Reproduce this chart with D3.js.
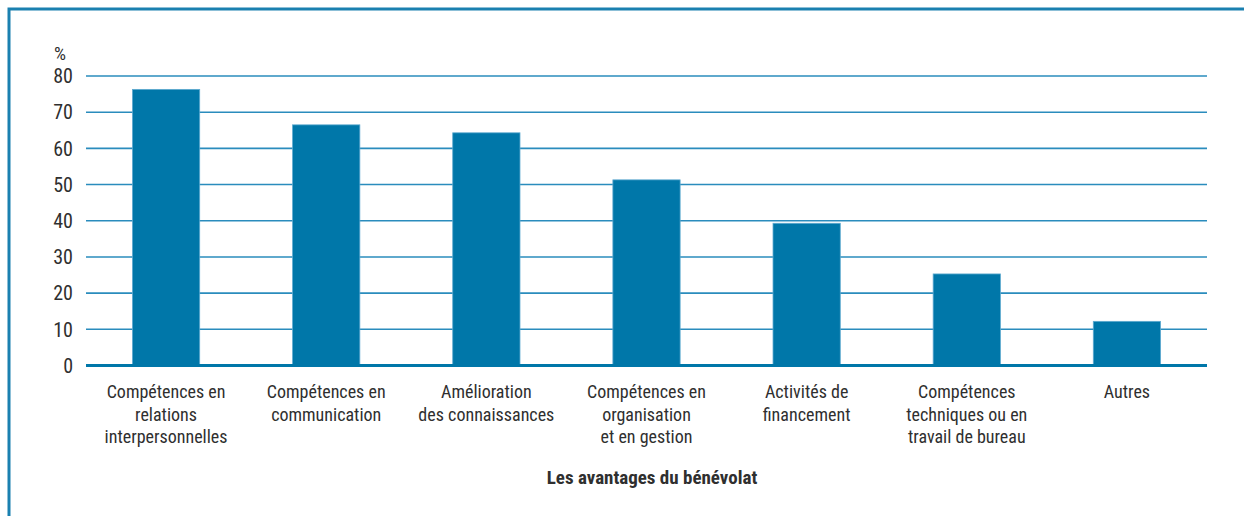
<!DOCTYPE html>
<html>
<head>
<meta charset="utf-8">
<script src="https://cdn.jsdelivr.net/npm/d3@7"></script>
<style>
  body { margin: 0; background: #fff; }
  text { font-family: "Liberation Sans Narrow", "Roboto Condensed", "Liberation Sans", sans-serif; fill: #2f2f2f; }
</style>
</head>
<body>
<div id="chart"></div>
<script>
/* DATA */
const categories = [
  "Compétences en|relations|interpersonnelles",
  "Compétences en|communication",
  "Amélioration|des connaissances",
  "Compétences en|organisation|et en gestion",
  "Activités de|financement",
  "Compétences|techniques ou en|travail de bureau",
  "Autres"
];
const values = [76.3, 66.5, 64.3, 51.3, 39.3, 25.3, 12.2];
const yTicks = [0, 10, 20, 30, 40, 50, 60, 70, 80];
const unitLabel = "%";
const xTitle = "Les avantages du bénévolat";

/* CONSTANTS */
const width = 1244,
  height = 516,
  margin = { top: 76, bottom: 150.5, left: 86, right: 37 };

const blue = "#0077a9";

const svg = d3.select("#chart")
  .append("svg")
  .attr("width", width)
  .attr("height", height);

// frame
svg.append("rect")
  .attr("x", 9)
  .attr("y", 9)
  .attr("width", width + 20)
  .attr("height", height + 20)
  .attr("fill", "none")
  .attr("stroke", "#1a80b0")
  .attr("stroke-width", 3);

// scales
const xScale = d3.scaleBand()
  .domain(categories)
  .range([margin.left, width - margin.right])
  .paddingInner(0.58)
  .paddingOuter(0.29);

const yScale = d3.scaleLinear()
  .domain([0, 80])
  .range([height - margin.bottom, margin.top]);

// grid lines
svg.append("g")
  .selectAll("line")
  .data(yTicks.filter(d => d > 0))
  .join("line")
  .attr("x1", margin.left)
  .attr("x2", width - margin.right)
  .attr("y1", d => yScale(d))
  .attr("y2", d => yScale(d))
  .attr("stroke", "#2a8cbd")
  .attr("stroke-width", 1.6);

// bars
svg.append("g")
  .selectAll("rect")
  .data(values)
  .join("rect")
  .attr("x", (d, i) => xScale(categories[i]))
  .attr("y", d => yScale(d))
  .attr("width", xScale.bandwidth())
  .attr("height", d => yScale(0) - yScale(d))
  .attr("fill", blue)
  .attr("stroke", "#5eaad0")
  .attr("stroke-width", 0.8);

// baseline
svg.append("line")
  .attr("x1", margin.left)
  .attr("x2", width - margin.right)
  .attr("y1", yScale(0))
  .attr("y2", yScale(0))
  .attr("stroke", blue)
  .attr("stroke-width", 3);

// y tick labels
svg.append("g")
  .selectAll("text")
  .data(yTicks)
  .join("text")
  .attr("x", 73)
  .attr("y", d => yScale(d))
  .attr("dy", "0.36em")
  .attr("text-anchor", "end")
  .style("font-size", "20px")
  .text(d => d);

svg.append("text")
  .attr("x", 54)
  .attr("y", 60)
  .style("font-size", "19px")
  .text(unitLabel);

// category labels
const catGroup = svg.append("g");
categories.forEach(c => {
  const t = catGroup.append("text")
    .attr("x", xScale(c) + xScale.bandwidth() / 2)
    .attr("y", 398)
    .attr("text-anchor", "middle")
    .style("font-size", "18px");
  c.split("|").forEach((line, i) => {
    t.append("tspan")
      .attr("x", xScale(c) + xScale.bandwidth() / 2)
      .attr("dy", i === 0 ? 0 : 22.6)
      .text(line);
  });
});

// x axis title
svg.append("text")
  .attr("x", 652)
  .attr("y", 484)
  .attr("text-anchor", "middle")
  .style("font-size", "19px")
  .style("font-weight", "bold")
  .text(xTitle);
</script>
</body>
</html>
